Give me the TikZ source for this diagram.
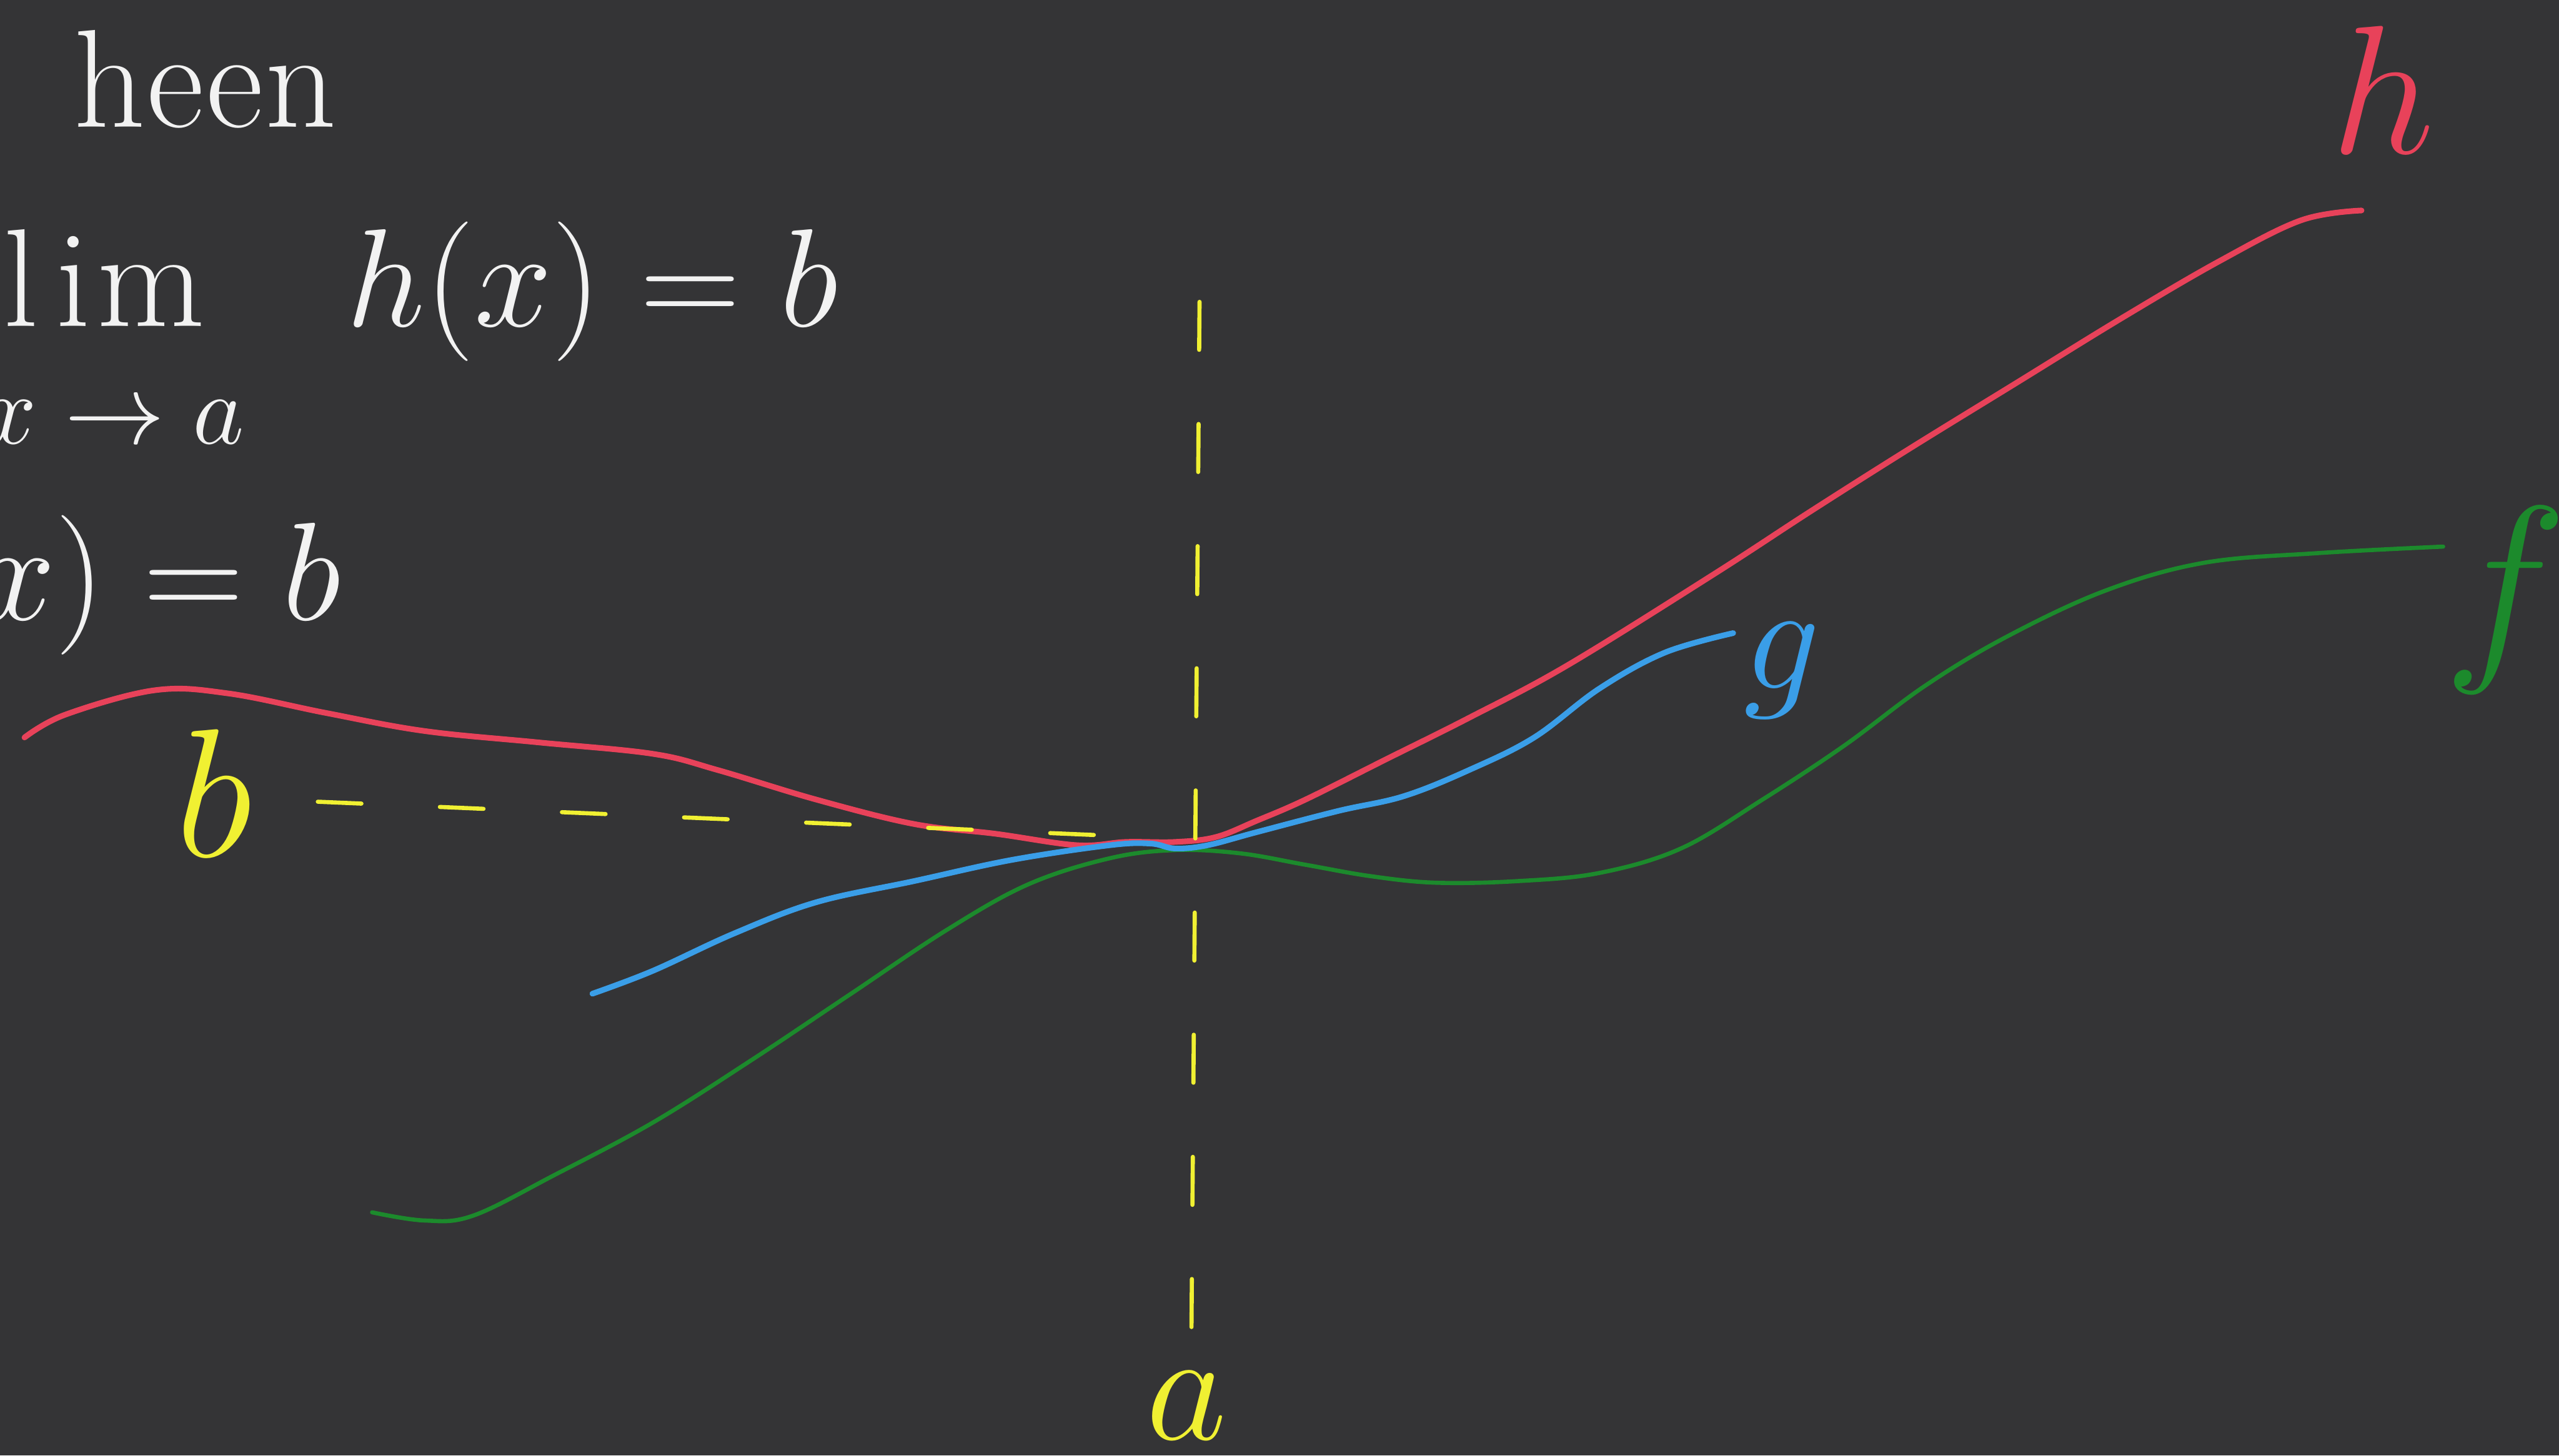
\RequirePackage{fix-cm}
\documentclass[tikz,border=0pt]{standalone}
\definecolor{bg}{RGB}{52,52,54}
\definecolor{chalk}{RGB}{242,242,242}
\definecolor{hred}{RGB}{232,66,90}
\definecolor{gblue}{RGB}{58,158,232}
\definecolor{fgreen}{RGB}{28,138,44}
\definecolor{ylw}{RGB}{240,240,50}
\tikzset{
  txt/.style={text=chalk, font=\fontsize{64}{70}\selectfont, inner sep=0pt, anchor=base west},
  lbl/.style={inner sep=0pt, anchor=base},
  curve/.style={line width=2.6pt, line cap=round, line join=round},
  guide/.style={draw=ylw, line width=1.9pt, line cap=round, dash pattern={on 22pt off 34pt}}
}
\begin{document}
\begin{tikzpicture}[x=0.026295cm,y=-0.026295cm]
\fill[bg] (0,0) rectangle (1568,892);
\useasboundingbox (0,0) rectangle (1568,892);

% white text
\node[txt] (heen) at (45,78) {h\kern1pt e\kern1pt e\kern1pt n};
\node[txt] (lim) at (2,200) {l\kern8pt i\kern3pt m};
\node[txt] (hx) at (212,200) {$h(x) = b$};
\node[txt, font=\fontsize{46}{50}\selectfont] (xa) at (-12,272) {$x\to a$};
\node[txt] (fx) at (-14,380) {$x) = b$};

% curves
\draw[curve, hred] plot[smooth, tension=0.6] coordinates {
 (15,452) (40,438) (95,423) (140,425) (200,437) (260,448) (330,455) (400,462)
 (440,472) (500,490) (560,505) (610,511) (660,518) (690,516) (720,516) (745,513)
 (770,503) (800,490) (850,465) (900,440) (960,408) (1050,352) (1110,313)
 (1170,275) (1235,235) (1300,195) (1360,160) (1410,135) (1447,129)};
\draw[curve, fgreen, line width=1.9pt] plot[smooth, tension=0.6] coordinates {
 (228,743) (260,748) (290,745) (340,720) (400,688) (460,650) (520,610) (580,570)
 (630,542) (680,526) (720,521) (760,523) (800,530) (840,537) (880,541) (930,540)
 (980,535) (1030,520) (1080,490) (1130,457) (1180,420) (1230,390) (1290,362)
 (1350,345) (1420,339) (1497,335)};
\draw[curve, gblue] plot[smooth, tension=0.6] coordinates {
 (363,609) (400,595) (450,572) (500,553) (560,540) (620,527) (680,518) (705,517)
 (720,520) (740,518) (770,510) (820,497) (860,488) (900,472) (940,452) (980,422)
 (1020,400) (1062,388)};

% labels
\node[lbl, text=hred, font=\fontsize{84}{84}\selectfont] (hlab) at (1460,94) {$h$};
\node[lbl, text=gblue, font=\fontsize{70}{70}\selectfont] (glab) at (1092,422) {$g$};
\node[lbl, text=fgreen, font=\fontsize{96}{96}\selectfont] (flab) at (1535,400) {$f$};
\node[lbl, text=ylw, font=\fontsize{84}{84}\selectfont] (blab) at (131,525) {$b$};
\node[lbl, text=ylw, font=\fontsize{72}{72}\selectfont] (alab) at (727,882) {$a$};

% guide lines
\coordinate (vtop) at (735,185);
\coordinate (vbot) at (730,822);
\coordinate (hend) at (700,513);
\draw[guide] (vtop) -- (vbot);
\draw[guide, dash pattern={on 20pt off 36pt}] ([xshift=30pt,yshift=-4pt]blab.east) -- (hend);
\end{tikzpicture}
\end{document}
